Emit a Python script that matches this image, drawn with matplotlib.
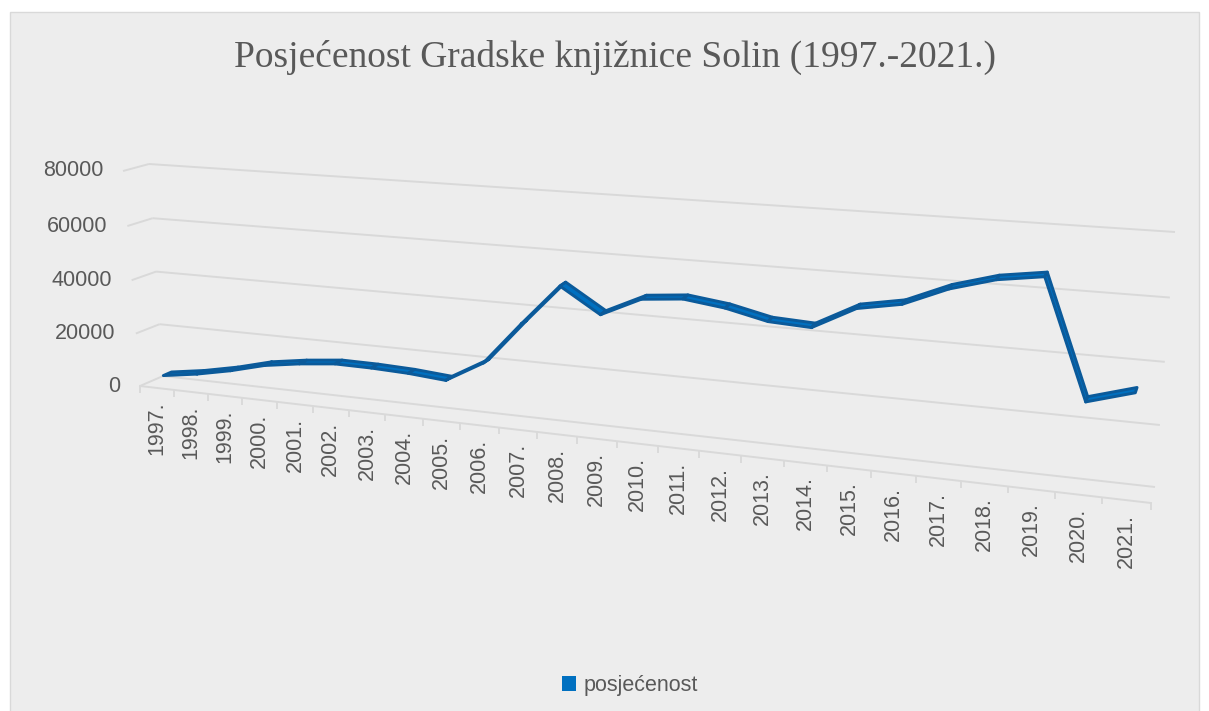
import numpy as np
import matplotlib
matplotlib.use("Agg")
import matplotlib.pyplot as plt
import matplotlib.patches as ptch
import matplotlib.transforms as mtr
from matplotlib.lines import TICKDOWN

# Chart data
years = ["1997.", "1998.", "1999.", "2000.", "2001.", "2002.", "2003.", "2004.", "2005.",
         "2006.", "2007.", "2008.", "2009.", "2010.", "2011.", "2012.", "2013.", "2014.",
         "2015.", "2016.", "2017.", "2018.", "2019.", "2020.", "2021."]
visits = [3500, 5500, 8200, 11600, 13600, 15000, 14900, 14400, 13300,
          20900, 36000, 50400, 41800, 48300, 49600, 47800, 44600, 43900,
          51400, 54000, 60100, 64200, 66300, 28300, 32700]
y_ticks = [0, 20000, 40000, 60000, 80000]
title = "Posjećenost Gradske knjižnice Solin (1997.-2021.)"
series_name = "posjećenost"

# Colors
text_color = "#595959"
grid_color = "#D9D9D9"
blue = "#0070C0"
blue_edge = "#0B5A9A"

n_cat = len(years)
y_max = y_ticks[-1]

# Corners of the 3D plot box in image pixels: (cat, value) = (0,0), (1,0), (0,1), (1,1)
front_corners = [(140, 386), (1151, 503), (123, 171), (1170, 245)]
back_corners = [(163, 376), (1155, 487), (149, 164), (1175, 232)]

# Build the homography of a plane from its 4 corners
def homography(dst):
	src = [(0, 0), (1, 0), (0, 1), (1, 1)]
	A, b = [], []
	for (x, y), (X, Y) in zip(src, dst):
		A.append([x, y, 1, 0, 0, 0, -X * x, -X * y])
		b.append(X)
		A.append([0, 0, 0, x, y, 1, -Y * x, -Y * y])
		b.append(Y)
	h = np.linalg.solve(np.array(A, float), np.array(b, float))
	return np.append(h, 1).reshape(3, 3)

HF = homography(front_corners)
HB = homography(back_corners)

def apply_h(H, s, t):
	p = H @ np.vstack([s, t, np.ones_like(s)])
	return (p[:2] / p[2]).T

# Perspective transform: (category, value) at a fixed depth, or (depth, value) on the side wall
class BoxTransform(mtr.Transform):
	input_dims = 2
	output_dims = 2
	def __init__(self, box_depth = None):
		mtr.Transform.__init__(self)
		self.box_depth = box_depth
	def transform_non_affine(self, values):
		values = np.asarray(values, float).reshape(-1, 2)
		if self.box_depth is None:
			s = np.zeros(len(values))
			d = values[:, 0]
		else:
			s = values[:, 0] / n_cat
			d = np.full(len(values), self.box_depth)
		t = values[:, 1] / y_max
		pf = apply_h(HF, s, t)
		pb = apply_h(HB, s, t)
		return pf + d[:, None] * (pb - pf)

# Figure in pixel coordinates
fig = plt.figure(figsize = (12.09, 7.11), dpi = 100)
ax = fig.add_axes([0, 0, 1, 1])
ax.set_xlim(0, 1209)
ax.set_ylim(711, 0)
ax.axis("off")

# Chart area
ax.add_patch(ptch.Rectangle((10, 12), 1189, 710, facecolor = "#EDEDED", edgecolor = grid_color, linewidth = 1))

front = BoxTransform(0.0) + ax.transData
back = BoxTransform(1.0) + ax.transData
side = BoxTransform(None) + ax.transData

# Gridlines: side wall + back wall
for v in y_ticks:
	ax.plot([0, 1], [v, v], color = grid_color, lw = 1.4, transform = side, solid_capstyle = "butt")
	ax.plot([0, n_cat], [v, v], color = grid_color, lw = 1.4, transform = back, solid_capstyle = "butt")
	off = mtr.ScaledTranslation(-0.2, 0, fig.dpi_scale_trans)
	ax.text(0, v, str(v), transform = front + off, ha = "right", va = "center",
		fontsize = 15.5, color = text_color, family = "Liberation Sans")

# Category axis with ticks
ax.plot([0, n_cat], [0, 0], color = grid_color, lw = 1.4, transform = front)
ax.plot(np.arange(n_cat + 1), np.zeros(n_cat + 1), linestyle = "none", marker = TICKDOWN,
	markersize = 5, markeredgewidth = 1.3, color = grid_color, transform = front)
lab_off = mtr.ScaledTranslation(0, -0.135, fig.dpi_scale_trans)
for i, y in enumerate(years):
	ax.text(i + 0.5, 0, y, transform = front + lab_off, rotation = 90, ha = "center", va = "top",
		fontsize = 15.5, color = text_color, family = "Liberation Sans")

# Series ribbon
u = np.arange(n_cat) + 0.5
pts = np.column_stack([u, visits])
pf = BoxTransform(0.32).transform(pts)
pb = BoxTransform(0.68).transform(pts)
for i in range(n_cat - 1):
	quad = [pf[i], pf[i + 1], pb[i + 1], pb[i]]
	ax.add_patch(ptch.Polygon(quad, closed = True, facecolor = blue, edgecolor = blue_edge,
		linewidth = 2.1, joinstyle = "round", zorder = 5))

# Title
ax.text(615, 57, title, ha = "center", va = "center", fontsize = 27, color = text_color, family = "Liberation Serif")

# Legend
handle = ptch.Patch(facecolor = blue, edgecolor = "none", label = series_name)
ax.legend(handles = [handle], loc = "center", bbox_to_anchor = (0.521, 0.036), frameon = False,
	handlelength = 0.65, handleheight = 0.65, handletextpad = 0.35,
	prop = {"family": "Liberation Sans", "size": 15.5}, labelcolor = text_color)

plt.savefig("out.png", dpi = 100)
